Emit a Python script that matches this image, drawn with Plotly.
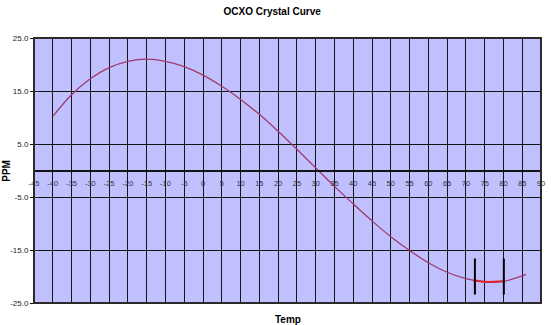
import plotly.graph_objects as go

# Frequency deviation of the OCXO crystal versus temperature
temp = [-40, -35, -30, -25, -20, -15, -10, -5, 0, 5, 10, 15, 20, 25, 30,
        35, 40, 45, 50, 55, 60, 65, 70, 75, 80, 85, 86]
ppm = [10.2, 14.3, 17.3, 19.4, 20.6, 21.0, 20.6, 19.6, 18.0, 15.9, 13.4, 10.6,
       7.4, 4.0, 0.5, -3.0, -6.3, -9.5, -12.5, -15.1, -17.4, -19.2, -20.4,
       -21.0, -20.9, -19.9, -19.6]

# Turning-point window highlighted on the curve
window_temp = [72, 75, 80]
window_ppm = [-20.7, -21.0, -20.9]

# Vertical markers bounding the window
marker_temp = [72.4, 80.1]
marker_low = -23.4
marker_high = -16.6

x_ticks = list(range(-45, 91, 5))
y_ticks = [-25, -15, -5, 5, 15, 25]

FONT = "Liberation Sans, Arial, sans-serif"

fig = go.Figure()

fig.add_trace(go.Scatter(
    x=temp, y=ppm, mode="lines", line=dict(color="#A03A6E", width=1.3, shape="spline"),
    hoverinfo="skip", showlegend=False))

fig.add_trace(go.Scatter(
    x=window_temp, y=window_ppm, mode="lines",
    line=dict(color="#E4202C", width=2, shape="spline"),
    hoverinfo="skip", showlegend=False))

mx, my = [], []
for t in marker_temp:
    mx += [t, t, None]
    my += [marker_low, marker_high, None]
fig.add_trace(go.Scatter(
    x=mx, y=my, mode="lines", line=dict(color="#000000", width=2),
    hoverinfo="skip", showlegend=False))

fig.update_layout(
    width=551, height=325,
    margin=dict(l=34, r=6, t=38, b=22),
    paper_bgcolor="#FFFFFF",
    plot_bgcolor="#C0C0FF",
    font=dict(family=FONT, color="#000000"),
    title=dict(text="<b>OCXO Crystal Curve</b>", x=0.494, xanchor="center",
               y=1 - 11 / 325, yanchor="middle",
               font=dict(size=10, family=FONT, color="#000000")),
    xaxis=dict(
        range=[-45, 90], tickvals=x_ticks, ticktext=[str(v) for v in x_ticks],
        showgrid=True, gridcolor="#151515", gridwidth=1,
        zeroline=False, showline=True, linecolor="#151515", linewidth=1.5,
        anchor="free", position=0.5,
        ticks="outside", ticklen=3, tickcolor="#151515",
        ticklabelstandoff=3,
        tickfont=dict(size=7.5, color="#333344", family=FONT),
    ),
    yaxis=dict(
        range=[-25, 25], tickvals=y_ticks, ticktext=[f"{v:.1f}" for v in y_ticks],
        showgrid=True, gridcolor="#151515", gridwidth=1,
        zeroline=False, showline=False,
        ticks="outside", ticklen=3, tickcolor="#151515",
        tickfont=dict(size=8, color="#222222", family=FONT),
    ),
    shapes=[
        dict(type="rect", xref="paper", yref="paper", x0=0, x1=1, y0=0, y1=1,
             line=dict(color="#2a2a2a", width=2), layer="above"),
    ],
    annotations=[
        dict(text="<b>Temp</b>", xref="paper", yref="paper", x=0.5, y=-16 / 265,
             xanchor="center", yanchor="middle", showarrow=False,
             font=dict(size=10, family=FONT, color="#000000")),
        dict(text="<b>PPM</b>", xref="paper", yref="paper", x=-28 / 511, y=0.5,
             xanchor="center", yanchor="middle", textangle=-90, showarrow=False,
             font=dict(size=10, family=FONT, color="#000000")),
    ],
)

fig.write_html("out.html")
